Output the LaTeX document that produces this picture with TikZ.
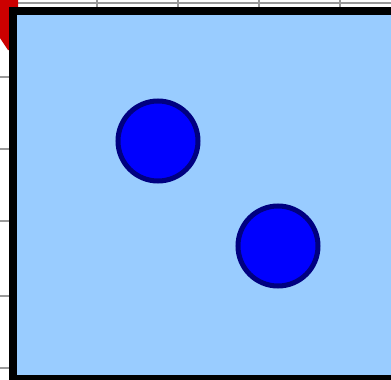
\documentclass[tikz,border=0pt]{standalone}
\usepackage{tikz}
\usetikzlibrary{positioning}
\definecolor{pondblue}{RGB}{153,204,255}
\definecolor{ballblue}{RGB}{0,0,255}
\definecolor{ballrim}{RGB}{0,0,128}
\definecolor{flagred}{RGB}{204,0,0}

\begin{document}
\begin{tikzpicture}[
    x=1pt, y=-1pt,
    gridline/.style={draw=gray!80, line width=2pt},
    frame/.style={draw=black, line width=8pt, fill=pondblue},
    ball/.style={circle, draw=ballrim, fill=ballblue, line width=5pt,
                 minimum size=80pt, inner sep=0pt},
  ]
  \useasboundingbox (0,0) rectangle (391,380);
  \clip (0,0) rectangle (391,380);

  % ── Background grid ──
  \foreach \gx in {16,97,178,259,340}
    \draw[gridline] (\gx,0) -- (\gx,380);
  \foreach \gy in {3,77,149,221,296,368}
    \draw[gridline] (0,\gy) -- (391,\gy);

  % ── Red corner ──
  \fill[flagred] (0,0) -- (18,0) -- (18,50) -- (8,50) -- (0,38) -- cycle;

  % ── Pond ──
  \draw[frame] (13,11) rectangle (400,379);

  % ── Balls ──
  \node[ball] (ballA) at (158,141) {};
  \node[ball] (ballB) at (278,246) {};

\end{tikzpicture}
\end{document}
